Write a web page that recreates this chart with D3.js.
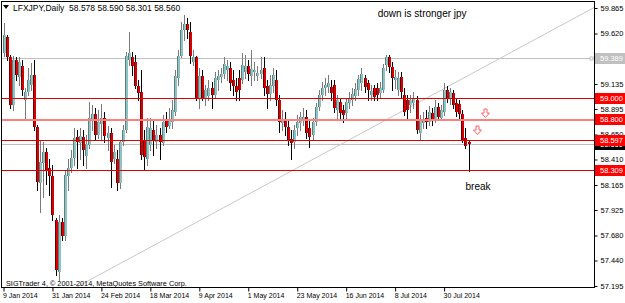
<!DOCTYPE html>
<html>
<head>
<meta charset="utf-8">
<script src="https://cdn.jsdelivr.net/npm/d3@7"></script>
<style>
  body { margin: 0; background: #fff; }
  svg text { font-family: "Liberation Sans", Arial, sans-serif; }
</style>
</head>
<body>
<div id="chart-area"></div>
<script>

// Daily bars, 9 Jan 2014 .. 8 Aug 2014 (one entry per trading day)
var opens = [
  59.43, 59.59, 59.39, 58.93, 59.37, 59.20, 59.31, 58.98, 59.06, 59.13,
  59.22, 58.72, 58.18, 58.38, 58.48, 58.33, 58.25, 57.83, 57.33, 57.81,
  57.68, 58.25, 58.33, 58.42, 58.63, 58.57, 58.63, 58.44, 58.55, 58.79,
  58.85, 58.65, 58.75, 58.81, 58.62, 58.66, 58.41, 58.41, 58.18, 58.58,
  58.69, 59.37, 59.39, 59.35, 59.12, 59.06, 58.60, 58.41, 58.55, 58.69,
  58.58, 58.65, 58.57, 58.78, 58.73, 58.77, 58.87, 59.19, 59.40, 59.65,
  59.71, 59.63, 59.35, 59.39, 59.00, 59.21, 59.00, 59.02, 59.10, 59.03,
  59.17, 59.20, 59.23, 59.27, 59.29, 59.17, 59.12, 59.19, 59.17, 59.25,
  59.31, 59.21, 59.25, 59.21, 59.23, 59.29, 59.12, 59.04, 59.12, 59.17,
  58.98, 58.76, 58.80, 58.72, 58.61, 58.58, 58.71, 58.76, 58.79, 58.82,
  58.71, 58.65, 58.77, 58.91, 59.03, 59.10, 59.11, 59.11, 59.13, 58.89,
  58.96, 58.89, 58.86, 58.95, 58.98, 59.02, 59.08, 59.14, 59.19, 59.14,
  59.03, 59.10, 59.10, 59.05, 59.08, 59.32, 59.39, 59.30, 59.17, 59.08,
  59.20, 59.03, 58.98, 58.93, 58.95, 58.98, 58.66, 58.76, 58.81, 58.77,
  58.86, 58.79, 58.91, 58.81, 58.87, 59.08, 59.00, 59.05, 58.95, 58.94,
  58.85, 58.62, 58.578
];
var highs = [
  59.72, 59.61, 59.41, 59.40, 59.39, 59.39, 59.37, 59.10, 59.29, 59.34,
  59.37, 58.74, 58.60, 58.58, 58.52, 58.41, 58.36, 57.85, 57.88, 57.85,
  58.31, 58.41, 58.50, 58.71, 58.69, 58.71, 58.69, 58.65, 58.96, 58.93,
  58.90, 58.89, 58.94, 58.87, 58.73, 58.71, 58.55, 58.50, 58.60, 58.74,
  59.44, 59.63, 59.44, 59.41, 59.17, 59.27, 58.69, 58.81, 58.81, 58.79,
  58.74, 58.71, 58.84, 58.87, 58.90, 58.98, 59.27, 59.46, 59.73, 59.80,
  59.77, 59.73, 59.46, 59.40, 59.29, 59.27, 59.13, 59.17, 59.15, 59.25,
  59.27, 59.29, 59.39, 59.37, 59.35, 59.27, 59.19, 59.27, 59.43, 59.41,
  59.37, 59.46, 59.35, 59.31, 59.39, 59.39, 59.17, 59.22, 59.29, 59.27,
  59.03, 58.89, 58.87, 58.79, 58.69, 58.74, 58.84, 58.87, 58.90, 58.89,
  58.79, 58.81, 58.95, 59.08, 59.15, 59.19, 59.22, 59.17, 59.17, 59.03,
  59.00, 58.93, 59.00, 59.06, 59.10, 59.14, 59.22, 59.29, 59.22, 59.17,
  59.13, 59.13, 59.14, 59.15, 59.33, 59.41, 59.41, 59.35, 59.27, 59.25,
  59.25, 59.10, 59.03, 59.03, 59.06, 59.02, 58.84, 58.87, 58.89, 58.92,
  58.90, 58.98, 58.95, 58.93, 59.14, 59.12, 59.10, 59.08, 59.00, 58.98,
  58.89, 58.71, 58.590
];
var lows = [
  59.40, 59.37, 58.90, 58.89, 59.17, 59.13, 59.03, 58.79, 59.03, 59.08,
  58.69, 58.12, 57.91, 58.05, 58.17, 58.07, 57.83, 57.30, 57.25, 57.64,
  57.64, 58.12, 58.29, 58.36, 58.33, 58.41, 58.36, 58.33, 58.52, 58.69,
  58.60, 58.62, 58.60, 58.58, 58.50, 58.15, 58.38, 58.12, 58.14, 58.55,
  58.67, 59.32, 59.22, 59.10, 58.98, 58.41, 58.31, 58.36, 58.50, 58.45,
  58.52, 58.41, 58.55, 58.67, 58.71, 58.71, 58.84, 59.13, 59.39, 59.56,
  59.58, 59.34, 59.32, 58.98, 58.90, 58.98, 58.93, 58.98, 58.90, 59.00,
  59.08, 59.15, 59.19, 59.17, 59.08, 59.03, 58.98, 58.98, 59.14, 59.19,
  59.17, 59.13, 59.17, 59.17, 59.19, 59.03, 58.90, 58.98, 59.06, 58.93,
  58.67, 58.69, 58.65, 58.55, 58.41, 58.52, 58.65, 58.69, 58.74, 58.62,
  58.53, 58.60, 58.74, 58.89, 58.98, 59.03, 59.06, 58.98, 58.87, 58.81,
  58.81, 58.77, 58.81, 58.90, 58.93, 58.98, 59.03, 59.08, 59.06, 58.98,
  58.98, 58.98, 58.98, 59.00, 59.06, 59.27, 59.25, 59.08, 59.10, 59.03,
  59.00, 58.84, 58.79, 58.87, 58.90, 58.66, 58.60, 58.71, 58.71, 58.74,
  58.74, 58.77, 58.79, 58.79, 58.84, 58.96, 58.94, 58.90, 58.83, 58.79,
  58.58, 58.52, 58.301
];
var closes = [
  59.61, 59.39, 58.93, 59.37, 59.22, 59.35, 59.08, 59.06, 59.17, 59.22,
  58.72, 58.19, 58.39, 58.48, 58.31, 58.25, 57.88, 57.35, 57.81, 57.68,
  58.26, 58.33, 58.42, 58.62, 58.58, 58.64, 58.50, 58.56, 58.81, 58.85,
  58.65, 58.77, 58.81, 58.64, 58.66, 58.39, 58.48, 58.18, 58.58, 58.69,
  59.40, 59.43, 59.31, 59.12, 59.05, 58.45, 58.43, 58.72, 58.71, 58.59,
  58.65, 58.58, 58.77, 58.72, 58.79, 58.89, 59.21, 59.40, 59.65, 59.71,
  59.65, 59.40, 59.39, 59.00, 59.21, 59.00, 59.08, 59.10, 59.03, 59.19,
  59.21, 59.23, 59.33, 59.31, 59.14, 59.12, 59.06, 59.08, 59.32, 59.31,
  59.23, 59.28, 59.27, 59.24, 59.27, 59.10, 59.04, 59.13, 59.22, 58.98,
  58.77, 58.80, 58.72, 58.60, 58.57, 58.69, 58.77, 58.82, 58.82, 58.66,
  58.63, 58.77, 58.91, 59.03, 59.10, 59.13, 59.14, 59.05, 58.90, 58.98,
  58.86, 58.84, 58.96, 59.00, 59.04, 59.09, 59.18, 59.23, 59.11, 59.08,
  59.07, 59.01, 59.03, 59.10, 59.29, 59.39, 59.30, 59.19, 59.20, 59.19,
  59.06, 58.87, 58.89, 58.98, 59.00, 58.69, 58.79, 58.79, 58.77, 58.87,
  58.78, 58.91, 58.82, 58.89, 59.08, 59.00, 59.06, 58.93, 58.87, 58.85,
  58.60, 58.54, 58.560
];

// time axis labels (every 16th bar)
var xTickBars = [0, 16, 32, 48, 64, 80, 96, 112, 128, 144];
var xTickLabels = ["9 Jan 2014", "31 Jan 2014", "24 Feb 2014", "18 Mar 2014", "9 Apr 2014",
                   "1 May 2014", "23 May 2014", "16 Jun 2014", "8 Jul 2014", "30 Jul 2014"];

// price scale labels
var priceTicks = [59.865, 59.620, 59.380, 59.135, 58.895, 58.650, 58.410, 58.165, 57.925, 57.680, 57.440, 57.195];

// drawn objects
var redLevels = [59.000, 58.597, 58.309];
var pinkLevel = 58.800;
var greyLevel = 59.389;
var bidPrice = 58.560;
var trendPoints = [[28, 57.25], [154, 59.25]];
var arrowMarks = [[157.5, 58.86], [154.8, 58.69]];

var header = "LFXJPY,Daily  58.578 58.590 58.301 58.560";

var W = 625, H = 303;
var plot = {left: 2, top: 2, right: 594, bottom: 288};

var svg = d3.select("#chart-area").append("svg")
    .attr("width", W)
    .attr("height", H);

var x = d3.scaleLinear().domain([0, 193]).range([3.5, 594]);
var y = d3.scaleLinear().domain([57.195, 59.865]).range([286, 8]);

svg.append("clipPath").attr("id", "clip")
  .append("rect")
    .attr("x", plot.left).attr("y", plot.top)
    .attr("width", plot.right - plot.left).attr("height", plot.bottom - plot.top);

var g = svg.append("g").attr("clip-path", "url(#clip)");

// horizontal lines
g.append("line")
    .attr("x1", plot.left).attr("x2", plot.right)
    .attr("y1", Math.round(y(greyLevel)) + 0.5).attr("y2", Math.round(y(greyLevel)) + 0.5)
    .attr("stroke", "#c0c0c0");
g.append("rect")
    .attr("x", plot.right - 4).attr("y", Math.round(y(greyLevel)) - 1)
    .attr("width", 3).attr("height", 3)
    .attr("fill", "#fff").attr("stroke", "#c0c0c0");

g.append("line")
    .attr("x1", plot.left).attr("x2", plot.right)
    .attr("y1", Math.round(y(bidPrice)) + 0.5).attr("y2", Math.round(y(bidPrice)) + 0.5)
    .attr("stroke", "#c0c0c0");

// trend line, extended across the chart
var t0 = trendPoints[0], t1 = trendPoints[1];
var slope = (t1[1] - t0[1]) / (t1[0] - t0[0]);
g.append("line")
    .attr("x1", x(0)).attr("y1", y(t0[1] + slope * (0 - t0[0])))
    .attr("x2", x(193)).attr("y2", y(t0[1] + slope * (193 - t0[0])))
    .attr("stroke", "#c8c8c8")
    .attr("stroke-width", 1);

// candles
var bars = d3.range(opens.length).map(function(i) {
  return {i: i, o: opens[i], h: highs[i], l: lows[i], c: closes[i]};
});

var candle = g.selectAll(".candle")
    .data(bars)
  .enter().append("g")
    .attr("class", "candle");

candle.append("line")
    .attr("x1", function(d) { return Math.round(x(d.i)) + 0.5; })
    .attr("x2", function(d) { return Math.round(x(d.i)) + 0.5; })
    .attr("y1", function(d) { return Math.round(y(d.h)); })
    .attr("y2", function(d) { return Math.round(y(d.l)) + 1; })
    .attr("stroke", function(d) { return d.c >= d.o ? "#7a7a7a" : "#000"; });

candle.append("rect")
    .attr("x", function(d) { return Math.round(x(d.i)) - 1; })
    .attr("width", 3)
    .attr("y", function(d) { return Math.round(y(Math.max(d.o, d.c))); })
    .attr("height", function(d) {
      return Math.max(1, Math.round(y(Math.min(d.o, d.c))) - Math.round(y(Math.max(d.o, d.c))));
    })
    .attr("fill", function(d) { return d.c >= d.o ? "#8cc4c4" : "#d80000"; });

// dark edge on the left of each body
candle.append("rect")
    .attr("x", function(d) { return Math.round(x(d.i)) - 1; })
    .attr("width", 1)
    .attr("y", function(d) { return Math.round(y(Math.max(d.o, d.c))); })
    .attr("height", function(d) {
      return Math.max(1, Math.round(y(Math.min(d.o, d.c))) - Math.round(y(Math.max(d.o, d.c))));
    })
    .attr("fill", function(d) { return d.c >= d.o ? "#5f7f7f" : "#600000"; });

// red levels
g.selectAll(".level")
    .data(redLevels)
  .enter().append("line")
    .attr("class", "level")
    .attr("x1", plot.left).attr("x2", plot.right)
    .attr("y1", function(d) { return Math.round(y(d)) + 0.5; })
    .attr("y2", function(d) { return Math.round(y(d)) + 0.5; })
    .attr("stroke", "#e00000");

g.append("line")
    .attr("x1", plot.left).attr("x2", plot.right)
    .attr("y1", Math.round(y(pinkLevel)) + 1).attr("y2", Math.round(y(pinkLevel)) + 1)
    .attr("stroke", "#ff7f7f")
    .attr("stroke-width", 2);

// arrows
var arrowPath = "M-1.5,-4.5 h3 v4 h2.5 l-4,4.5 l-4,-4.5 h2.5 z";
g.selectAll(".arrow")
    .data(arrowMarks)
  .enter().append("path")
    .attr("class", "arrow")
    .attr("d", arrowPath)
    .attr("transform", function(d) { return "translate(" + (Math.round(x(d[0])) + 0.5) + "," + (Math.round(y(d[1])) + 0.5) + ")"; })
    .attr("fill", "#fff")
    .attr("stroke", "#ff6060");

// texts
svg.append("path")
    .attr("d", "M3,5 h6 l-3,4 z")
    .attr("fill", "#000");
svg.append("text")
    .attr("x", 13).attr("y", 11)
    .attr("font-size", 8.5)
    .attr("xml:space", "preserve")
    .style("white-space", "pre")
    .text(header);

svg.append("text")
    .attr("x", x(122.3)).attr("y", y(59.78))
    .attr("font-size", 10)
    .text("down is stronger jpy");

svg.append("text")
    .attr("x", x(151)).attr("y", y(58.12))
    .attr("font-size", 10)
    .text("break");

svg.append("text")
    .attr("x", 6).attr("y", 286)
    .attr("font-size", 7.3)
    .text("SIGTrader 4, \u00a9 2001-2014, MetaQuotes Software Corp.");

// frame
svg.append("rect")
    .attr("x", plot.left - 0.5).attr("y", plot.top - 0.5)
    .attr("width", plot.right - plot.left + 1).attr("height", plot.bottom - plot.top)
    .attr("fill", "none")
    .attr("stroke", "#000");

// price axis
var yAxis = d3.axisRight(y)
    .tickValues(priceTicks)
    .tickSize(3)
    .tickPadding(3)
    .tickFormat(d3.format(".3f"));

var yAxisGroup = svg.append("g")
    .attr("class", "y-axis")
    .attr("transform", "translate(" + (plot.right + 0.5) + ",0)")
    .call(yAxis);
yAxisGroup.select(".domain").remove();
yAxisGroup.selectAll("text").attr("font-size", 7.5).attr("font-family", "Liberation Sans, Arial");

// time axis
var xAxis = d3.axisBottom(x)
    .tickValues(xTickBars)
    .tickSize(4)
    .tickPadding(2)
    .tickFormat(function(d, i) { return xTickLabels[i]; });

var xAxisGroup = svg.append("g")
    .attr("class", "x-axis")
    .attr("transform", "translate(0," + (plot.bottom - 0.5) + ")")
    .call(xAxis);
xAxisGroup.select(".domain").remove();
xAxisGroup.selectAll("text")
    .attr("text-anchor", "start")
    .attr("x", -1)
    .attr("font-size", 7)
    .attr("font-family", "Liberation Sans, Arial");

// price boxes on the scale
var boxes = [
  {v: bidPrice, fill: "#000"},
  {v: greyLevel, fill: "#c0c0c0"},
  {v: redLevels[0], fill: "#ff0000"},
  {v: pinkLevel, fill: "#ff0000"},
  {v: redLevels[1], fill: "#ff0000"},
  {v: redLevels[2], fill: "#ff0000"}
];

var box = svg.selectAll(".pbox")
    .data(boxes)
  .enter().append("g")
    .attr("class", "pbox")
    .attr("transform", function(d) { return "translate(" + (plot.right + 1) + "," + Math.round(y(d.v)) + ")"; });

box.append("rect")
    .attr("x", 0).attr("y", -5)
    .attr("width", 30).attr("height", 11)
    .attr("fill", function(d) { return d.fill; });

box.append("text")
    .attr("x", 5).attr("y", 3)
    .attr("font-size", 7.5)
    .attr("fill", "#fff")
    .text(function(d) { return d3.format(".3f")(d.v); });

</script>
</body>
</html>
